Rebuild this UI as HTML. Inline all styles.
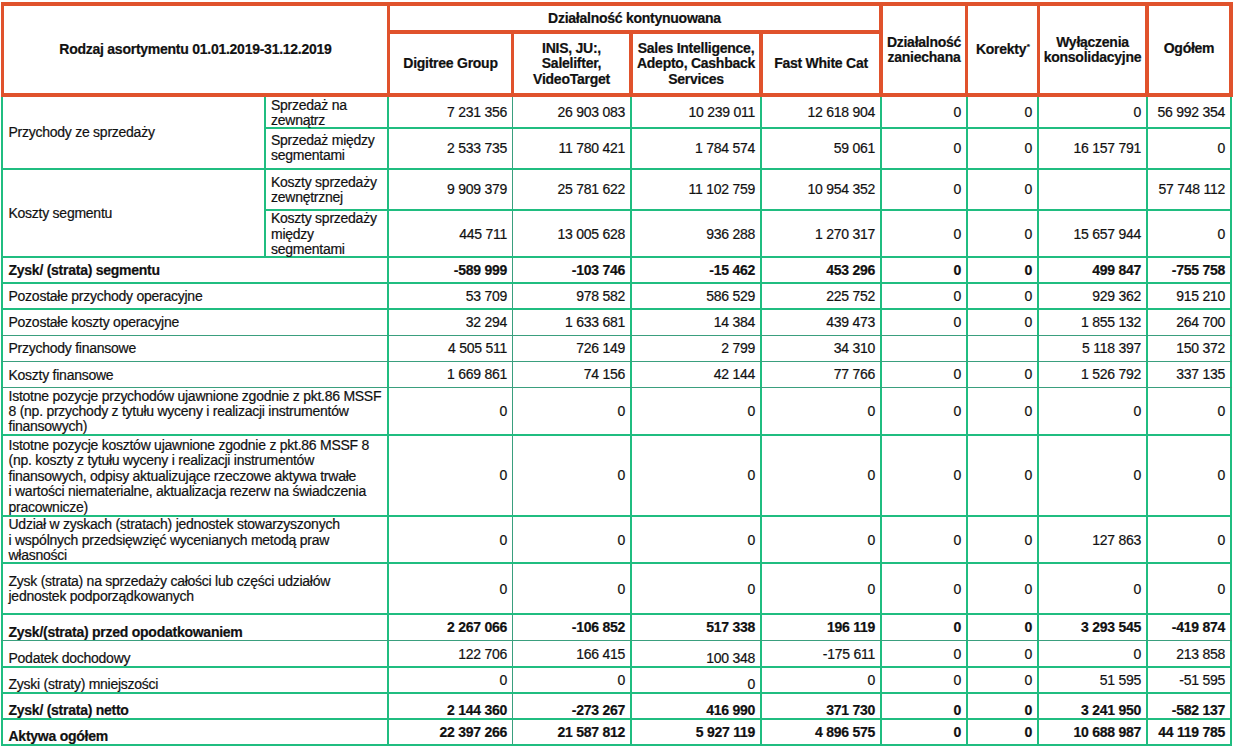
<!DOCTYPE html>
<html><head><meta charset="utf-8"><style>
html,body{margin:0;padding:0;background:#fff;width:1233px;height:748px;overflow:hidden}
body{position:relative;font-family:"Liberation Sans",sans-serif;font-size:14.0px;color:#111}
div{position:absolute}
.t{line-height:15px;white-space:nowrap;letter-spacing:-0.255px;-webkit-text-stroke:0.2px #111}
sup{font-size:8px;vertical-align:top;position:relative;top:-3px;left:0.5px}
</style></head><body>
<div style="left:1px;top:97px;width:2px;height:649px;background:#20bd80"></div>
<div style="left:387px;top:97px;width:2px;height:649px;background:#20bd80"></div>
<div style="left:512px;top:97px;width:1px;height:649px;background:#3a9f7e"></div>
<div style="left:630px;top:97px;width:2px;height:649px;background:#20bd80"></div>
<div style="left:760px;top:97px;width:2px;height:649px;background:#20bd80"></div>
<div style="left:880px;top:97px;width:2px;height:649px;background:#20bd80"></div>
<div style="left:966px;top:97px;width:2px;height:649px;background:#20bd80"></div>
<div style="left:1037px;top:97px;width:2px;height:649px;background:#20bd80"></div>
<div style="left:1146px;top:97px;width:2px;height:649px;background:#20bd80"></div>
<div style="left:1230px;top:97px;width:2px;height:649px;background:#20bd80"></div>
<div style="left:264px;top:97px;width:2px;height:159px;background:#20bd80"></div>
<div style="left:264px;top:127px;width:968px;height:2px;background:#20bd80"></div>
<div style="left:1px;top:168px;width:1231px;height:2px;background:#20bd80"></div>
<div style="left:264px;top:209px;width:968px;height:2px;background:#20bd80"></div>
<div style="left:1px;top:256px;width:1231px;height:2px;background:#20bd80"></div>
<div style="left:1px;top:282px;width:1231px;height:2px;background:#20bd80"></div>
<div style="left:1px;top:308px;width:1231px;height:2px;background:#20bd80"></div>
<div style="left:1px;top:335px;width:1231px;height:1px;background:#3a9f7e"></div>
<div style="left:1px;top:361px;width:1231px;height:1px;background:#3a9f7e"></div>
<div style="left:1px;top:387px;width:1231px;height:1px;background:#3a9f7e"></div>
<div style="left:1px;top:434px;width:1231px;height:2px;background:#20bd80"></div>
<div style="left:1px;top:515px;width:1231px;height:2px;background:#20bd80"></div>
<div style="left:1px;top:562px;width:1231px;height:2px;background:#20bd80"></div>
<div style="left:1px;top:613px;width:1231px;height:2px;background:#20bd80"></div>
<div style="left:1px;top:640px;width:1231px;height:1px;background:#3a9f7e"></div>
<div style="left:1px;top:666px;width:1231px;height:2px;background:#20bd80"></div>
<div style="left:1px;top:692px;width:1231px;height:2px;background:#20bd80"></div>
<div style="left:1px;top:718px;width:1231px;height:2px;background:#20bd80"></div>
<div style="left:1px;top:744px;width:1231px;height:2px;background:#20bd80"></div>
<div style="left:1px;top:2px;width:1232px;height:4px;background:#e0522c"></div>
<div style="left:1px;top:93px;width:1232px;height:4px;background:#e0522c"></div>
<div style="left:387px;top:30px;width:496px;height:4px;background:#e0522c"></div>
<div style="left:1px;top:2px;width:3px;height:95px;background:#e0522c"></div>
<div style="left:387px;top:2px;width:3px;height:95px;background:#e0522c"></div>
<div style="left:879px;top:2px;width:4px;height:95px;background:#e0522c"></div>
<div style="left:965px;top:2px;width:3px;height:95px;background:#e0522c"></div>
<div style="left:1037px;top:2px;width:3px;height:95px;background:#e0522c"></div>
<div style="left:1145px;top:2px;width:4px;height:95px;background:#e0522c"></div>
<div style="left:1229px;top:2px;width:4px;height:95px;background:#e0522c"></div>
<div style="left:511px;top:30px;width:3px;height:67px;background:#e0522c"></div>
<div style="left:629px;top:30px;width:4px;height:67px;background:#e0522c"></div>
<div style="left:759px;top:30px;width:4px;height:67px;background:#e0522c"></div>
<div class="t" style="left:4px;top:42px;width:383px;text-align:center;font-weight:bold;">Rodzaj asortymentu 01.01.2019-31.12.2019</div>
<div class="t" style="left:390px;top:11px;width:489px;text-align:center;font-weight:bold;">Działalność kontynuowana</div>
<div class="t" style="left:390px;top:56px;width:121px;text-align:center;font-weight:bold;">Digitree Group</div>
<div class="t" style="left:514px;top:41px;width:115px;text-align:center;font-weight:bold;">INIS, JU:,</div>
<div class="t" style="left:514px;top:56px;width:115px;text-align:center;font-weight:bold;">Salelifter,</div>
<div class="t" style="left:514px;top:72px;width:115px;text-align:center;font-weight:bold;">VideoTarget</div>
<div class="t" style="left:633px;top:41px;width:126px;text-align:center;font-weight:bold;">Sales Intelligence,</div>
<div class="t" style="left:633px;top:56px;width:126px;text-align:center;font-weight:bold;">Adepto, Cashback</div>
<div class="t" style="left:633px;top:72px;width:126px;text-align:center;font-weight:bold;">Services</div>
<div class="t" style="left:763px;top:56px;width:116px;text-align:center;font-weight:bold;">Fast White Cat</div>
<div class="t" style="left:883px;top:35px;width:82px;text-align:center;font-weight:bold;">Działalność</div>
<div class="t" style="left:883px;top:50px;width:82px;text-align:center;font-weight:bold;">zaniechana</div>
<div class="t" style="left:968px;top:42px;width:69px;text-align:center;font-weight:bold;">Korekty<sup>*</sup></div>
<div class="t" style="left:1040px;top:35px;width:105px;text-align:center;font-weight:bold;">Wyłączenia</div>
<div class="t" style="left:1040px;top:50px;width:105px;text-align:center;font-weight:bold;">konsolidacyjne</div>
<div class="t" style="left:1149px;top:41px;width:80px;text-align:center;font-weight:bold;">Ogółem</div>
<div class="t" style="left:271px;top:98px;width:116px;text-align:left;">Sprzedaż na</div>
<div class="t" style="left:271px;top:113px;width:116px;text-align:left;">zewnątrz</div>
<div class="t" style="left:312px;top:105px;width:195px;text-align:right;">7 231 356</div>
<div class="t" style="left:430px;top:105px;width:195px;text-align:right;">26 903 083</div>
<div class="t" style="left:560px;top:105px;width:195px;text-align:right;">10 239 011</div>
<div class="t" style="left:680px;top:105px;width:195px;text-align:right;">12 618 904</div>
<div class="t" style="left:766px;top:105px;width:195px;text-align:right;">0</div>
<div class="t" style="left:837px;top:105px;width:195px;text-align:right;">0</div>
<div class="t" style="left:946px;top:105px;width:195px;text-align:right;">0</div>
<div class="t" style="left:1030px;top:105px;width:195px;text-align:right;">56 992 354</div>
<div class="t" style="left:271px;top:133px;width:116px;text-align:left;">Sprzedaż między</div>
<div class="t" style="left:271px;top:148px;width:116px;text-align:left;">segmentami</div>
<div class="t" style="left:312px;top:141px;width:195px;text-align:right;">2 533 735</div>
<div class="t" style="left:430px;top:141px;width:195px;text-align:right;">11 780 421</div>
<div class="t" style="left:560px;top:141px;width:195px;text-align:right;">1 784 574</div>
<div class="t" style="left:680px;top:141px;width:195px;text-align:right;">59 061</div>
<div class="t" style="left:766px;top:141px;width:195px;text-align:right;">0</div>
<div class="t" style="left:837px;top:141px;width:195px;text-align:right;">0</div>
<div class="t" style="left:946px;top:141px;width:195px;text-align:right;">16 157 791</div>
<div class="t" style="left:1030px;top:141px;width:195px;text-align:right;">0</div>
<div class="t" style="left:271px;top:175px;width:116px;text-align:left;">Koszty sprzedaży</div>
<div class="t" style="left:271px;top:190px;width:116px;text-align:left;">zewnętrznej</div>
<div class="t" style="left:312px;top:182px;width:195px;text-align:right;">9 909 379</div>
<div class="t" style="left:430px;top:182px;width:195px;text-align:right;">25 781 622</div>
<div class="t" style="left:560px;top:182px;width:195px;text-align:right;">11 102 759</div>
<div class="t" style="left:680px;top:182px;width:195px;text-align:right;">10 954 352</div>
<div class="t" style="left:766px;top:182px;width:195px;text-align:right;">0</div>
<div class="t" style="left:837px;top:182px;width:195px;text-align:right;">0</div>
<div class="t" style="left:1030px;top:182px;width:195px;text-align:right;">57 748 112</div>
<div class="t" style="left:271px;top:211px;width:116px;text-align:left;">Koszty sprzedaży</div>
<div class="t" style="left:271px;top:227px;width:116px;text-align:left;">między</div>
<div class="t" style="left:271px;top:242px;width:116px;text-align:left;">segmentami</div>
<div class="t" style="left:312px;top:227px;width:195px;text-align:right;">445 711</div>
<div class="t" style="left:430px;top:227px;width:195px;text-align:right;">13 005 628</div>
<div class="t" style="left:560px;top:227px;width:195px;text-align:right;">936 288</div>
<div class="t" style="left:680px;top:227px;width:195px;text-align:right;">1 270 317</div>
<div class="t" style="left:766px;top:227px;width:195px;text-align:right;">0</div>
<div class="t" style="left:837px;top:227px;width:195px;text-align:right;">0</div>
<div class="t" style="left:946px;top:227px;width:195px;text-align:right;">15 657 944</div>
<div class="t" style="left:1030px;top:227px;width:195px;text-align:right;">0</div>
<div class="t" style="left:8.5px;top:263px;width:378.5px;text-align:left;font-weight:bold;">Zysk/ (strata) segmentu</div>
<div class="t" style="left:312px;top:263px;width:195px;text-align:right;font-weight:bold;">-589 999</div>
<div class="t" style="left:430px;top:263px;width:195px;text-align:right;font-weight:bold;">-103 746</div>
<div class="t" style="left:560px;top:263px;width:195px;text-align:right;font-weight:bold;">-15 462</div>
<div class="t" style="left:680px;top:263px;width:195px;text-align:right;font-weight:bold;">453 296</div>
<div class="t" style="left:766px;top:263px;width:195px;text-align:right;font-weight:bold;">0</div>
<div class="t" style="left:837px;top:263px;width:195px;text-align:right;font-weight:bold;">0</div>
<div class="t" style="left:946px;top:263px;width:195px;text-align:right;font-weight:bold;">499 847</div>
<div class="t" style="left:1030px;top:263px;width:195px;text-align:right;font-weight:bold;">-755 758</div>
<div class="t" style="left:8.5px;top:289px;width:378.5px;text-align:left;">Pozostałe przychody operacyjne</div>
<div class="t" style="left:312px;top:289px;width:195px;text-align:right;">53 709</div>
<div class="t" style="left:430px;top:289px;width:195px;text-align:right;">978 582</div>
<div class="t" style="left:560px;top:289px;width:195px;text-align:right;">586 529</div>
<div class="t" style="left:680px;top:289px;width:195px;text-align:right;">225 752</div>
<div class="t" style="left:766px;top:289px;width:195px;text-align:right;">0</div>
<div class="t" style="left:837px;top:289px;width:195px;text-align:right;">0</div>
<div class="t" style="left:946px;top:289px;width:195px;text-align:right;">929 362</div>
<div class="t" style="left:1030px;top:289px;width:195px;text-align:right;">915 210</div>
<div class="t" style="left:8.5px;top:315px;width:378.5px;text-align:left;">Pozostałe koszty operacyjne</div>
<div class="t" style="left:312px;top:315px;width:195px;text-align:right;">32 294</div>
<div class="t" style="left:430px;top:315px;width:195px;text-align:right;">1 633 681</div>
<div class="t" style="left:560px;top:315px;width:195px;text-align:right;">14 384</div>
<div class="t" style="left:680px;top:315px;width:195px;text-align:right;">439 473</div>
<div class="t" style="left:766px;top:315px;width:195px;text-align:right;">0</div>
<div class="t" style="left:837px;top:315px;width:195px;text-align:right;">0</div>
<div class="t" style="left:946px;top:315px;width:195px;text-align:right;">1 855 132</div>
<div class="t" style="left:1030px;top:315px;width:195px;text-align:right;">264 700</div>
<div class="t" style="left:8.5px;top:341px;width:378.5px;text-align:left;">Przychody finansowe</div>
<div class="t" style="left:312px;top:341px;width:195px;text-align:right;">4 505 511</div>
<div class="t" style="left:430px;top:341px;width:195px;text-align:right;">726 149</div>
<div class="t" style="left:560px;top:341px;width:195px;text-align:right;">2 799</div>
<div class="t" style="left:680px;top:341px;width:195px;text-align:right;">34 310</div>
<div class="t" style="left:946px;top:341px;width:195px;text-align:right;">5 118 397</div>
<div class="t" style="left:1030px;top:341px;width:195px;text-align:right;">150 372</div>
<div class="t" style="left:8.5px;top:368px;width:378.5px;text-align:left;">Koszty finansowe</div>
<div class="t" style="left:312px;top:367px;width:195px;text-align:right;">1 669 861</div>
<div class="t" style="left:430px;top:367px;width:195px;text-align:right;">74 156</div>
<div class="t" style="left:560px;top:367px;width:195px;text-align:right;">42 144</div>
<div class="t" style="left:680px;top:367px;width:195px;text-align:right;">77 766</div>
<div class="t" style="left:766px;top:367px;width:195px;text-align:right;">0</div>
<div class="t" style="left:837px;top:367px;width:195px;text-align:right;">0</div>
<div class="t" style="left:946px;top:367px;width:195px;text-align:right;">1 526 792</div>
<div class="t" style="left:1030px;top:367px;width:195px;text-align:right;">337 135</div>
<div class="t" style="left:8.5px;top:389px;width:378.5px;text-align:left;">Istotne pozycje przychodów ujawnione zgodnie z pkt.86 MSSF</div>
<div class="t" style="left:8.5px;top:404px;width:378.5px;text-align:left;">8 (np. przychody z tytułu wyceny i realizacji instrumentów</div>
<div class="t" style="left:8.5px;top:419px;width:378.5px;text-align:left;">finansowych)</div>
<div class="t" style="left:312px;top:404px;width:195px;text-align:right;">0</div>
<div class="t" style="left:430px;top:404px;width:195px;text-align:right;">0</div>
<div class="t" style="left:560px;top:404px;width:195px;text-align:right;">0</div>
<div class="t" style="left:680px;top:404px;width:195px;text-align:right;">0</div>
<div class="t" style="left:766px;top:404px;width:195px;text-align:right;">0</div>
<div class="t" style="left:837px;top:404px;width:195px;text-align:right;">0</div>
<div class="t" style="left:946px;top:404px;width:195px;text-align:right;">0</div>
<div class="t" style="left:1030px;top:404px;width:195px;text-align:right;">0</div>
<div class="t" style="left:8.5px;top:438px;width:378.5px;text-align:left;">Istotne pozycje kosztów ujawnione zgodnie z pkt.86 MSSF 8</div>
<div class="t" style="left:8.5px;top:453px;width:378.5px;text-align:left;">(np. koszty z tytułu wyceny i realizacji instrumentów</div>
<div class="t" style="left:8.5px;top:469px;width:378.5px;text-align:left;">finansowych, odpisy aktualizujące rzeczowe aktywa trwałe</div>
<div class="t" style="left:8.5px;top:484px;width:378.5px;text-align:left;">i wartości niematerialne, aktualizacja rezerw na świadczenia</div>
<div class="t" style="left:8.5px;top:500px;width:378.5px;text-align:left;">pracownicze)</div>
<div class="t" style="left:312px;top:468px;width:195px;text-align:right;">0</div>
<div class="t" style="left:430px;top:468px;width:195px;text-align:right;">0</div>
<div class="t" style="left:560px;top:468px;width:195px;text-align:right;">0</div>
<div class="t" style="left:680px;top:468px;width:195px;text-align:right;">0</div>
<div class="t" style="left:766px;top:468px;width:195px;text-align:right;">0</div>
<div class="t" style="left:837px;top:468px;width:195px;text-align:right;">0</div>
<div class="t" style="left:946px;top:468px;width:195px;text-align:right;">0</div>
<div class="t" style="left:1030px;top:468px;width:195px;text-align:right;">0</div>
<div class="t" style="left:8.5px;top:517px;width:378.5px;text-align:left;">Udział w zyskach (stratach) jednostek stowarzyszonych</div>
<div class="t" style="left:8.5px;top:533px;width:378.5px;text-align:left;">i wspólnych przedsięwzięć wycenianych metodą praw</div>
<div class="t" style="left:8.5px;top:548px;width:378.5px;text-align:left;">własności</div>
<div class="t" style="left:312px;top:533px;width:195px;text-align:right;">0</div>
<div class="t" style="left:430px;top:533px;width:195px;text-align:right;">0</div>
<div class="t" style="left:560px;top:533px;width:195px;text-align:right;">0</div>
<div class="t" style="left:680px;top:533px;width:195px;text-align:right;">0</div>
<div class="t" style="left:766px;top:533px;width:195px;text-align:right;">0</div>
<div class="t" style="left:837px;top:533px;width:195px;text-align:right;">0</div>
<div class="t" style="left:946px;top:533px;width:195px;text-align:right;">127 863</div>
<div class="t" style="left:1030px;top:533px;width:195px;text-align:right;">0</div>
<div class="t" style="left:8.5px;top:574px;width:378.5px;text-align:left;">Zysk (strata) na sprzedaży całości lub części udziałów</div>
<div class="t" style="left:8.5px;top:589px;width:378.5px;text-align:left;">jednostek podporządkowanych</div>
<div class="t" style="left:312px;top:582px;width:195px;text-align:right;">0</div>
<div class="t" style="left:430px;top:582px;width:195px;text-align:right;">0</div>
<div class="t" style="left:560px;top:582px;width:195px;text-align:right;">0</div>
<div class="t" style="left:680px;top:582px;width:195px;text-align:right;">0</div>
<div class="t" style="left:766px;top:582px;width:195px;text-align:right;">0</div>
<div class="t" style="left:837px;top:582px;width:195px;text-align:right;">0</div>
<div class="t" style="left:946px;top:582px;width:195px;text-align:right;">0</div>
<div class="t" style="left:1030px;top:582px;width:195px;text-align:right;">0</div>
<div class="t" style="left:8.5px;top:625px;width:378.5px;text-align:left;font-weight:bold;">Zysk/(strata) przed opodatkowaniem</div>
<div class="t" style="left:312px;top:620px;width:195px;text-align:right;font-weight:bold;">2 267 066</div>
<div class="t" style="left:430px;top:620px;width:195px;text-align:right;font-weight:bold;">-106 852</div>
<div class="t" style="left:560px;top:620px;width:195px;text-align:right;font-weight:bold;">517 338</div>
<div class="t" style="left:680px;top:620px;width:195px;text-align:right;font-weight:bold;">196 119</div>
<div class="t" style="left:766px;top:620px;width:195px;text-align:right;font-weight:bold;">0</div>
<div class="t" style="left:837px;top:620px;width:195px;text-align:right;font-weight:bold;">0</div>
<div class="t" style="left:946px;top:620px;width:195px;text-align:right;font-weight:bold;">3 293 545</div>
<div class="t" style="left:1030px;top:620px;width:195px;text-align:right;font-weight:bold;">-419 874</div>
<div class="t" style="left:8.5px;top:651px;width:378.5px;text-align:left;">Podatek dochodowy</div>
<div class="t" style="left:312px;top:647px;width:195px;text-align:right;">122 706</div>
<div class="t" style="left:430px;top:647px;width:195px;text-align:right;">166 415</div>
<div class="t" style="left:560px;top:651px;width:195px;text-align:right;">100 348</div>
<div class="t" style="left:680px;top:647px;width:195px;text-align:right;">-175 611</div>
<div class="t" style="left:766px;top:647px;width:195px;text-align:right;">0</div>
<div class="t" style="left:837px;top:647px;width:195px;text-align:right;">0</div>
<div class="t" style="left:946px;top:647px;width:195px;text-align:right;">0</div>
<div class="t" style="left:1030px;top:647px;width:195px;text-align:right;">213 858</div>
<div class="t" style="left:8.5px;top:677px;width:378.5px;text-align:left;">Zyski (straty) mniejszości</div>
<div class="t" style="left:312px;top:673px;width:195px;text-align:right;">0</div>
<div class="t" style="left:430px;top:673px;width:195px;text-align:right;">0</div>
<div class="t" style="left:560px;top:677px;width:195px;text-align:right;">0</div>
<div class="t" style="left:680px;top:673px;width:195px;text-align:right;">0</div>
<div class="t" style="left:766px;top:673px;width:195px;text-align:right;">0</div>
<div class="t" style="left:837px;top:673px;width:195px;text-align:right;">0</div>
<div class="t" style="left:946px;top:673px;width:195px;text-align:right;">51 595</div>
<div class="t" style="left:1030px;top:673px;width:195px;text-align:right;">-51 595</div>
<div class="t" style="left:8.5px;top:703px;width:378.5px;text-align:left;font-weight:bold;">Zysk/ (strata) netto</div>
<div class="t" style="left:312px;top:703px;width:195px;text-align:right;font-weight:bold;">2 144 360</div>
<div class="t" style="left:430px;top:703px;width:195px;text-align:right;font-weight:bold;">-273 267</div>
<div class="t" style="left:560px;top:703px;width:195px;text-align:right;font-weight:bold;">416 990</div>
<div class="t" style="left:680px;top:703px;width:195px;text-align:right;font-weight:bold;">371 730</div>
<div class="t" style="left:766px;top:703px;width:195px;text-align:right;font-weight:bold;">0</div>
<div class="t" style="left:837px;top:703px;width:195px;text-align:right;font-weight:bold;">0</div>
<div class="t" style="left:946px;top:703px;width:195px;text-align:right;font-weight:bold;">3 241 950</div>
<div class="t" style="left:1030px;top:703px;width:195px;text-align:right;font-weight:bold;">-582 137</div>
<div class="t" style="left:8.5px;top:729px;width:378.5px;text-align:left;font-weight:bold;">Aktywa ogółem</div>
<div class="t" style="left:312px;top:725px;width:195px;text-align:right;font-weight:bold;">22 397 266</div>
<div class="t" style="left:430px;top:725px;width:195px;text-align:right;font-weight:bold;">21 587 812</div>
<div class="t" style="left:560px;top:725px;width:195px;text-align:right;font-weight:bold;">5 927 119</div>
<div class="t" style="left:680px;top:725px;width:195px;text-align:right;font-weight:bold;">4 896 575</div>
<div class="t" style="left:766px;top:725px;width:195px;text-align:right;font-weight:bold;">0</div>
<div class="t" style="left:837px;top:725px;width:195px;text-align:right;font-weight:bold;">0</div>
<div class="t" style="left:946px;top:725px;width:195px;text-align:right;font-weight:bold;">10 688 987</div>
<div class="t" style="left:1030px;top:725px;width:195px;text-align:right;font-weight:bold;">44 119 785</div>
<div class="t" style="left:8.5px;top:125px;width:255.5px;text-align:left;">Przychody ze sprzedaży</div>
<div class="t" style="left:8.5px;top:206px;width:255.5px;text-align:left;">Koszty segmentu</div>
</body></html>
